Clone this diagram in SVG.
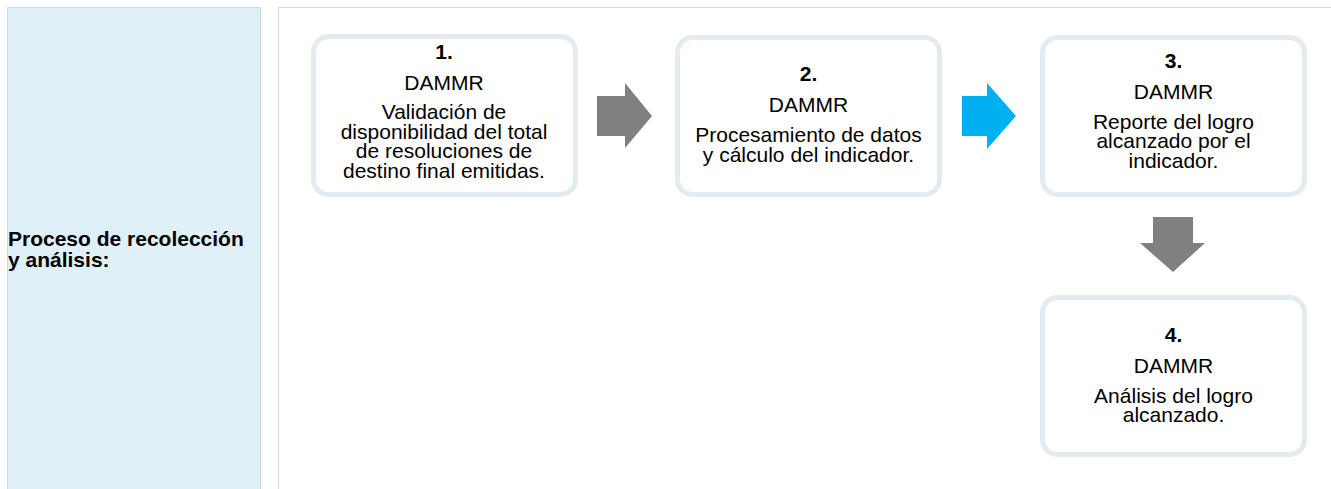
<svg xmlns="http://www.w3.org/2000/svg" width="1331" height="489" viewBox="0 0 1331 489">
<style>
.t{font-family:"Liberation Sans",Arial,sans-serif;font-size:21px;fill:#000;text-anchor:middle}
.b{font-weight:bold}
.box{fill:#fff;stroke:#E3EBF0;stroke-width:5}
.gray{fill:#808080}
.blue{fill:#00B0F0}
</style>
<rect width="1331" height="489" fill="#fff"/>
<g id="table">
<rect x="7.5" y="7.5" width="253" height="490" fill="#E0F0F8" stroke="#D6D6D6" stroke-width="1"/>
<rect x="278.5" y="7.5" width="1060" height="490" fill="#fff" stroke="#D9D9D9" stroke-width="1"/>
<text class="t b" x="8" y="246" style="text-anchor:start">Proceso de recolección</text>
<text class="t b" x="8" y="267" style="text-anchor:start">y análisis:</text>
</g>
<g id="connectors">
<polygon class="gray" points="597,96 625,96 625,83 652,116 625,148 625,136 597,136"/>
<polygon class="blue" points="962,96 987,96 987,83 1016,116 987,149 987,136 962,136"/>
<polygon class="gray" points="1153,217 1193,217 1193,243 1205,243 1173,272 1140,243 1153,243"/>
</g>
<g id="node1">
<rect class="box" x="313.5" y="36.5" width="262" height="158" rx="15"/>
<text class="t b" x="444" y="59">1.</text>
<text class="t" x="444" y="90">DAMMR</text>
<text class="t" x="444" y="119">Validación de</text>
<text class="t" x="444" y="138.5">disponibilidad del total</text>
<text class="t" x="444" y="158">de resoluciones de</text>
<text class="t" x="444" y="177.5">destino final emitidas.</text>
</g>
<g id="node2">
<rect class="box" x="677.5" y="37.5" width="262" height="157" rx="15"/>
<text class="t b" x="808.5" y="81">2.</text>
<text class="t" x="808.5" y="112">DAMMR</text>
<text class="t" x="808.5" y="142">Procesamiento de datos</text>
<text class="t" x="808.5" y="161.5">y cálculo del indicador.</text>
</g>
<g id="node3">
<rect class="box" x="1042.5" y="37.5" width="262" height="157" rx="15"/>
<text class="t b" x="1173.5" y="68">3.</text>
<text class="t" x="1173.5" y="99">DAMMR</text>
<text class="t" x="1173.5" y="128.5">Reporte del logro</text>
<text class="t" x="1173.5" y="148">alcanzado por el</text>
<text class="t" x="1173.5" y="167.5">indicador.</text>
</g>
<g id="node4">
<rect class="box" x="1042.5" y="297.5" width="262" height="157" rx="15"/>
<text class="t b" x="1173.5" y="342">4.</text>
<text class="t" x="1173.5" y="373">DAMMR</text>
<text class="t" x="1173.5" y="402.5">Análisis del logro</text>
<text class="t" x="1173.5" y="422">alcanzado.</text>
</g>
</svg>
